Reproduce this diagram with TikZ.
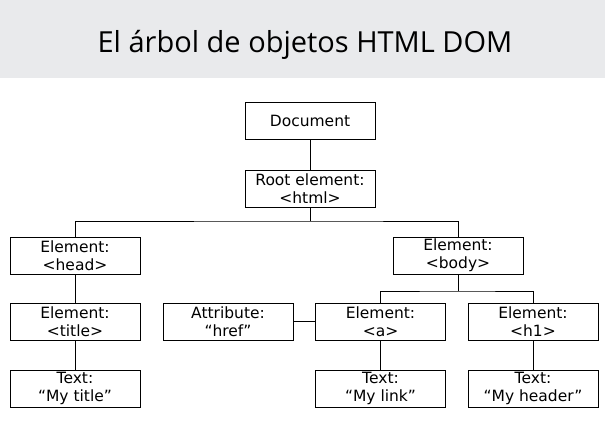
\documentclass[tikz,border=0pt]{standalone}
\usepackage{fontspec}
\setmainfont{DejaVu Sans}
\newfontfamily\titlefont{Open Sans}
\usepackage{tikz}
\usetikzlibrary{calc}
\definecolor{bandgray}{RGB}{233,234,236}
\tikzset{
  elem/.style={draw,line width=1pt,minimum width=130pt,minimum height=37pt,
    inner sep=1pt,align=center,font=\fontsize{15.5}{18}\selectfont},
  link/.style={line width=1pt}
}

\begin{document}
\begin{tikzpicture}[x=1pt,y=-1pt]
\useasboundingbox (0,0) rectangle (605,432);
\fill [bandgray] (0,0) rectangle (605,78);
\node (title) at (305,45) {\titlefont\fontsize{29}{34}\selectfont El árbol de objetos HTML DOM};
%root
\node [elem] (doc) at (310,121) {Document};
\node [elem] (root) at (310,188.5) {Root element:\\<html>};
%head side
\node [elem] (head) at (75,255.5) {Element:\\<head>};
\node [elem] (titleel) at (75,321.5) {Element:\\<title>};
\node [elem] (mytitle) at (75,388.5) {Text:\\``My title''};
%body side
\node [elem] (body) at (458,255.5) {Element:\\<body>};
\node [elem] (attr) at (228,321.5) {Attribute:\\``href''};
\node [elem] (a) at (380.5,321.5) {Element:\\<a>};
\node [elem] (h1) at (533,321.5) {Element:\\<h1>};
\node [elem] (mylink) at (380.5,388.5) {Text:\\``My link''};
\node [elem] (myheader) at (533,388.5) {Text:\\``My header''};
%branch points
\coordinate (bus) at (310,221);
\coordinate (bodybus) at (458,291);
\draw [link] (doc) -- (root);
\draw [link] (root) -- (bus);
\draw [link] (head) |- (bus) -| (body);
\draw [link] (head) -- (titleel);
\draw [link] (titleel) -- (mytitle);
\draw [link] (body) -- (bodybus);
\draw [link] (a) |- (bodybus) -| (h1);
\draw [link] (attr) -- (a);
\draw [link] (a) -- (mylink);
\draw [link] (h1) -- (myheader);
\end{tikzpicture}
\end{document}
